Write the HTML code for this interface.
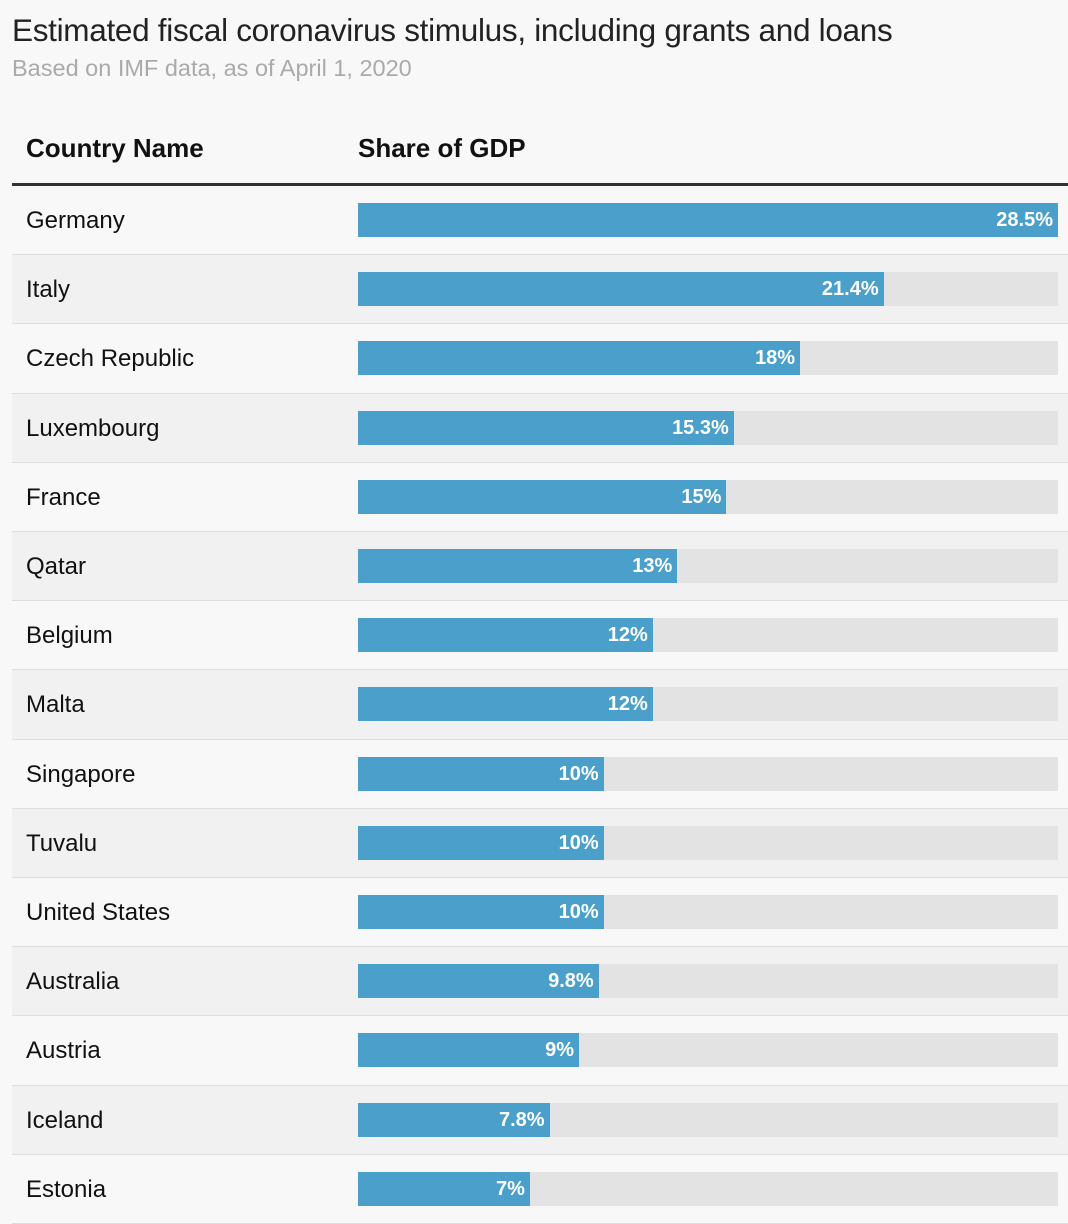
<!DOCTYPE html>
<html><head><meta charset="utf-8"><style>
body{margin:0;width:1068px;height:1200px;overflow:hidden;background:#f8f8f8;font-family:"Liberation Sans",sans-serif;position:relative}
.t{position:absolute;left:12px;top:12px;font-size:31.5px;color:#222;white-space:nowrap;letter-spacing:-0.3px}
.s{position:absolute;left:12px;top:55px;font-size:23.5px;color:#aaa;white-space:nowrap}
.h{position:absolute;top:133px;font-size:26px;font-weight:bold;color:#111;white-space:nowrap}
.rule{position:absolute;left:12px;top:183px;width:1056px;height:3px;background:#333}
.row{position:absolute;left:12px;width:1056px;border-bottom:1px solid #ddd;box-sizing:border-box}
.name{position:absolute;left:14px;font-size:24px;color:#111;white-space:nowrap}
.track{position:absolute;left:358px;width:700px;height:34px;background:#e3e3e3}
.bar{position:absolute;left:0;top:0;height:34px;background:#4a9fcb}
.val{position:absolute;right:5px;top:6px;font-size:20px;color:#fff;font-weight:bold;white-space:nowrap}
</style></head><body>
<div class="t">Estimated fiscal coronavirus stimulus, including grants and loans</div>
<div class="s">Based on IMF data, as of April 1, 2020</div>
<div class="h" style="left:26px">Country Name</div>
<div class="h" style="left:358px">Share of GDP</div>
<div class="rule"></div>
<div id="rows"></div>
<script>
const countries=["Germany","Italy","Czech Republic","Luxembourg","France","Qatar","Belgium","Malta","Singapore","Tuvalu","United States","Australia","Austria","Iceland","Estonia"];
const values=[28.5,21.4,18,15.3,15,13,12,12,10,10,10,9.8,9,7.8,7];
const labels=["28.5%","21.4%","18%","15.3%","15%","13%","12%","12%","10%","10%","10%","9.8%","9%","7.8%","7%"];
const maxVal=28.5, trackW=700, rowH=69.2, top0=186;
const xScale=v=>v/maxVal*trackW;
const c=document.getElementById('rows');
countries.forEach((n,i)=>{
  const r=document.createElement('div');
  r.className='row';
  
  
  r.style.top=(top0+i*rowH)+'px';
  r.style.height=rowH+'px';
  r.style.background=i%2?'#f1f1f1':'#f8f8f8';
  const nm=document.createElement('div');
  nm.className='name';
  
  
  nm.style.top='21px';
  nm.textContent=n;
  r.appendChild(nm);
  const tr=document.createElement('div');
  tr.className='track';
  
  
  tr.style.top='17px';tr.style.left='346px';
  const b=document.createElement('div');
  b.className='bar';
  
  
  b.style.width=xScale(values[i])+'px';
  const v=document.createElement('div');
  v.className='val';
  
  
  v.textContent=labels[i];
  b.appendChild(v);tr.appendChild(b);r.appendChild(tr);
  c.appendChild(r);
});
</script>
</body></html>
